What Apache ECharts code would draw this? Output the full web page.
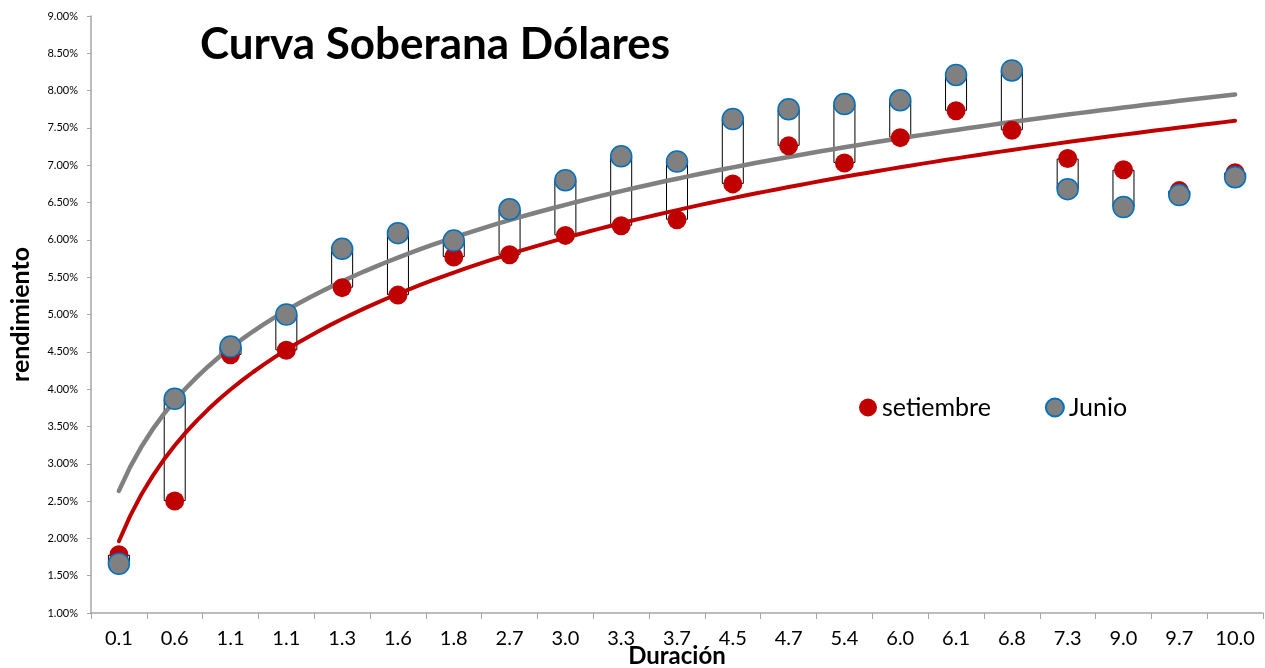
<!DOCTYPE html>
<html>
<head>
<meta charset="utf-8">
<script src="https://cdn.jsdelivr.net/npm/echarts@6/dist/echarts.min.js"></script>
<style>
html,body{margin:0;padding:0;background:#fff;overflow:hidden;}
#c{width:1265px;height:668px;}
</style>
</head>
<body>
<div id="c"></div>
<script>
const categories = ['0.1','0.6','1.1','1.1','1.3','1.6','1.8','2.7','3.0','3.3','3.7','4.5','4.7','5.4','6.0','6.1','6.8','7.3','9.0','9.7','10.0'];
const setiembre = [1.78,2.50,4.46,4.52,5.36,5.26,5.77,5.80,6.06,6.19,6.27,6.75,7.26,7.03,7.37,7.73,7.47,7.09,6.94,6.66,6.90];
const junio = [1.66,3.87,4.57,5.00,5.88,6.09,5.99,6.41,6.80,7.12,7.05,7.62,7.75,7.82,7.87,8.21,8.27,6.68,6.44,6.60,6.84];
const yTicks = {min: 1, max: 9, interval: 0.5};

// Excel-style logarithmic trendline: y = a*ln(x) + b with x = 1..n (category position)
function logFit(vals) {
  const n = vals.length;
  let sx = 0, sy = 0, sxx = 0, sxy = 0;
  vals.forEach((v, i) => { const l = Math.log(i + 1); sx += l; sy += v; sxx += l * l; sxy += l * v; });
  const a = (n * sxy - sx * sy) / (n * sxx - sx * sx);
  const b = (sy - a * sx) / n;
  const pts = [];
  for (let x = 1; x <= n + 1e-9; x += 0.2) pts.push([x, a * Math.log(x) + b]);
  return pts;
}
const lowBase = setiembre.map((v, i) => Math.min(v, junio[i]));
const diff = setiembre.map((v, i) => Math.abs(v - junio[i]));

const chart = echarts.init(document.getElementById('c'));
const FONT = 'Lato';
chart.setOption({
  backgroundColor: '#fff',
  animation: false,
  title: {
    text: 'Curva Soberana Dólares',
    left: 195, top: 18,
    textStyle: {fontFamily: FONT, fontWeight: 'bold', fontSize: 44, color: '#000'}
  },
  legend: {
    data: ['setiembre', 'Junio'],
    left: 854, top: 390,
    itemWidth: 18, itemHeight: 18, itemGap: 54,
    icon: 'circle',
    textStyle: {fontFamily: FONT, fontSize: 25, color: '#000'}
  },
  grid: {left: 91, top: 16, width: 1172, height: 597, containLabel: false, outerBoundsMode: 'none'},
  xAxis: [{
    type: 'category',
    data: categories,
    boundaryGap: true,
    name: 'Duración',
    nameLocation: 'middle',
    nameGap: 31,
    nameMoveOverlap: false,
    nameTextStyle: {fontFamily: FONT, fontWeight: 'bold', fontSize: 24, color: '#000'},
    axisLine: {lineStyle: {color: '#A6A6A6', width: 1.5}},
    axisTick: {show: true, length: 6, lineStyle: {color: '#A6A6A6'}},
    axisLabel: {fontFamily: FONT, fontSize: 20, color: '#000', margin: 16, interval: 0},
    splitLine: {show: false}
  }, {
    type: 'value',
    min: 0.5, max: categories.length + 0.5,
    show: false
  }],
  yAxis: {
    type: 'value',
    min: yTicks.min, max: yTicks.max, interval: yTicks.interval,
    name: 'rendimiento',
    nameLocation: 'middle',
    nameGap: 58,
    nameRotate: 90,
    nameMoveOverlap: false,
    nameTextStyle: {fontFamily: FONT, fontWeight: 'bold', fontSize: 25, color: '#000'},
    axisLine: {show: true, lineStyle: {color: '#A6A6A6', width: 1.5}},
    axisTick: {show: true, length: 4, lineStyle: {color: '#A6A6A6'}},
    axisLabel: {fontFamily: FONT, fontSize: 11, color: '#000', margin: 13, formatter: v => v.toFixed(2) + '%'},
    splitLine: {show: false}
  },
  series: [
    {
      name: 'base', type: 'bar', stack: 'ud', barWidth: 22, data: lowBase,
      itemStyle: {color: 'rgba(0,0,0,0)'}, silent: true, z: 1
    },
    {
      name: 'updown', type: 'bar', stack: 'ud', barWidth: 22, data: diff,
      itemStyle: {color: '#fff', borderColor: '#000', borderWidth: 1}, silent: true, z: 1
    },
    {
      name: 'trend setiembre', type: 'line', xAxisIndex: 1, data: logFit(setiembre),
      showSymbol: false, symbol: 'none', lineStyle: {color: '#C00000', width: 4, cap: 'round'}, z: 2
    },
    {
      name: 'trend Junio', type: 'line', xAxisIndex: 1, data: logFit(junio),
      showSymbol: false, symbol: 'none', lineStyle: {color: '#808080', width: 4.5, cap: 'round'}, z: 2
    },
    {
      name: 'setiembre', type: 'scatter', data: setiembre, symbolSize: 19,
      itemStyle: {color: '#C00000', opacity: 1}, z: 3
    },
    {
      name: 'Junio', type: 'scatter', data: junio, symbolSize: 21,
      itemStyle: {color: '#808080', borderColor: '#0070C0', borderWidth: 1.5, opacity: 1}, z: 4
    }
  ]
});
</script>
</body>
</html>
